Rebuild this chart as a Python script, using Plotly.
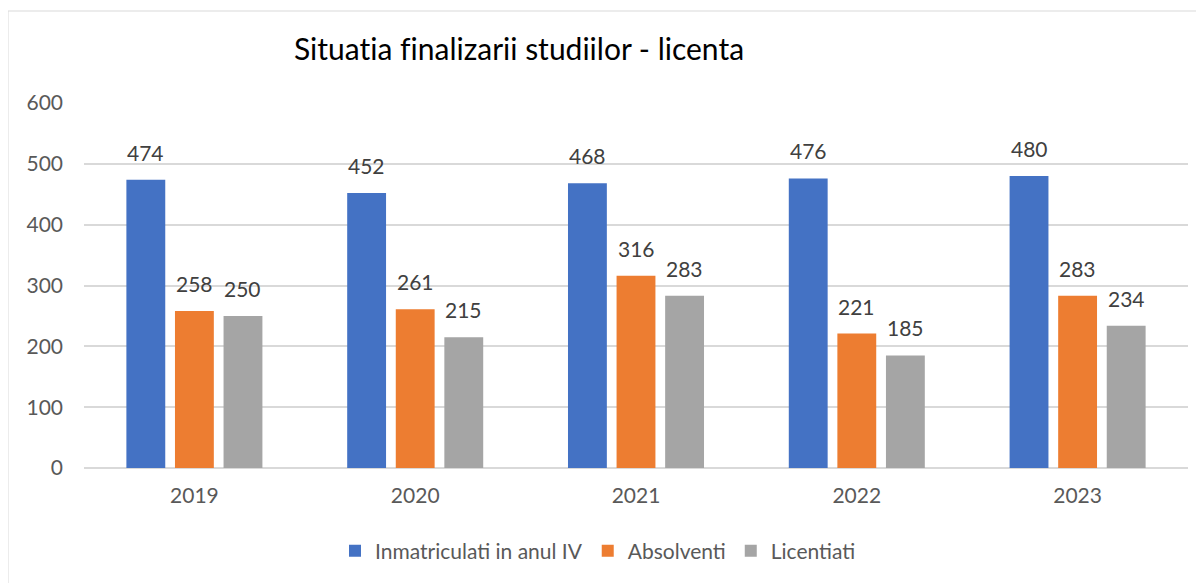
import plotly.graph_objects as go

years = ["2019", "2020", "2021", "2022", "2023"]
inmatriculati = [474, 452, 468, 476, 480]
absolventi = [258, 261, 316, 221, 283]
licentiati = [250, 215, 283, 185, 234]
series_names = ["Inmatriculati in anul IV", "Absolventi", "Licentiati"]
colors = ["#4472C4", "#ED7D31", "#A5A5A5"]
title_text = "Situatia finalizarii studiilor - licenta"

FONT = "Lato"
W, H = 1196, 575           # page body has an 8px margin
L, R, T, B = 76, 16, 95, 115
pw = W - L - R
ph = H - T - B

def px_x(x):
    return (x - L) / pw

def px_y(y):
    return (H - B - y) / ph

BARGAP = 0.34
GROUPGAP = 0.2
slot = (1 - BARGAP) / 3
offsets = [-slot, 0.0, slot]

fig = go.Figure()
for name, vals, col in zip(series_names, [inmatriculati, absolventi, licentiati], colors):
    fig.add_trace(go.Bar(
        x=years, y=vals, name=name, marker=dict(color=col, line=dict(width=0)),
    ))

annotations = []
for vals, off in zip([inmatriculati, absolventi, licentiati], offsets):
    for i, v in enumerate(vals):
        annotations.append(dict(
            x=i + off, y=v, xref="x", yref="y", text=str(v), showarrow=False,
            yanchor="bottom", xanchor="center", yshift=13,
            font=dict(family=FONT, size=21, color="#404040"),
        ))

fig.add_shape(type="rect", xref="paper", yref="paper",
              x0=px_x(0), x1=px_x(1215), y0=px_y(3), y1=px_y(595),
              line=dict(color="#D9D9D9", width=1), fillcolor="rgba(0,0,0,0)", layer="below")

fig.update_layout(
    width=W, height=H,
    margin=dict(l=L, r=R, t=T, b=B),
    paper_bgcolor="white", plot_bgcolor="white",
    barmode="group", bargap=BARGAP, bargroupgap=GROUPGAP,
    title=dict(text='<span style="font-variant-ligatures:none">' + title_text + '</span>',
               xref="container", x=511 / W, xanchor="center",
               y=1 - 41 / H, yanchor="middle",
               font=dict(family=FONT, size=30, color="#000000")),
    font=dict(family=FONT, color="#595959"),
    xaxis=dict(showline=False, showgrid=False, ticks="", tickfont=dict(size=21, color="#595959"),
               ticklabelstandoff=13),
    yaxis=dict(range=[0, 600], dtick=100, showgrid=True, gridcolor="#D9D9D9", gridwidth=1.5,
               zeroline=True, zerolinecolor="#D9D9D9", zerolinewidth=1.5,
               showline=False, ticks="", tickfont=dict(size=21, color="#595959"),
               ticklabelstandoff=20),
    legend=dict(orientation="h", x=px_x(590), xanchor="center", y=px_y(543), yanchor="middle",
                font=dict(size=21, color="#595959"), itemwidth=30, tracegroupgap=0),
    annotations=annotations,
)

fig.write_html("out.html")
